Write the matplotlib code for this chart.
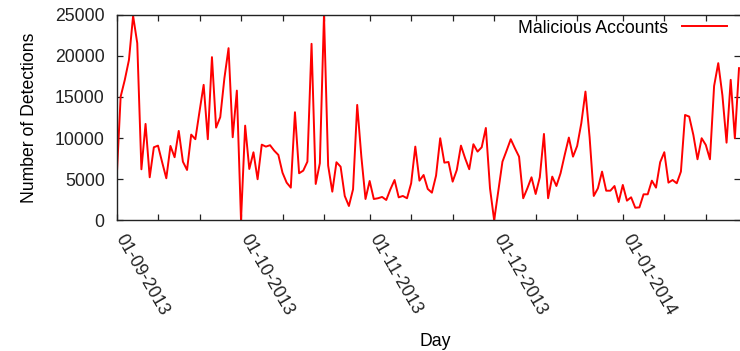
import numpy as np
import pandas as pd
import matplotlib
matplotlib.use('Agg')
import matplotlib.pyplot as plt
import matplotlib.dates as mdates
import matplotlib.transforms as mtransforms

plt.rcParams['font.family'] = ['Liberation Sans', 'DejaVu Sans']

# daily detections, starting 01-09-2013
start_day = '2013-09-01'
detections = [
    4700, 15040, 17080, 19500, 24860, 21540, 6200, 11720, 5230, 8880,
    9080, 7060, 5110, 9040, 7670, 10870, 7130, 6120, 10420, 9860,
    13220, 16470, 9860, 19840, 11270, 12540, 17280, 20930, 10100, 15770,
    0, 11510, 6240, 8270, 4990, 9200, 8960, 9130, 8470, 7950,
    5790, 4580, 3970, 13140, 5720, 6040, 7130, 21460, 4420, 6940,
    25000, 6650, 3480, 7060, 6520, 2960, 1740, 3770, 14030, 7740,
    2590, 4780, 2590, 2680, 2840, 2470, 3770, 4900, 2790, 2960,
    2680, 4500, 8960, 4820, 5510, 3810, 3360, 5430, 9980, 7010,
    7090, 4700, 6120, 9080, 7550, 6210, 9250, 8350, 8880, 11230,
    3890, 0, 3600, 7130, 8470, 9860, 8760, 7740, 2680, 3890,
    5230, 3200, 5230, 10500, 2680, 5310, 4170, 5720, 7950, 10060,
    7740, 9040, 11800, 15650, 10100, 2960, 3890, 5920, 3600, 3600,
    4170, 2220, 4300, 2390, 2800, 1530, 1570, 3160, 3160, 4820,
    3970, 7060, 8280, 4580, 4900, 4500, 5920, 12810, 12610, 10380,
    7420, 9980, 9160, 7420, 16330, 19110, 15200, 9440, 17080, 9980,
    18500,
]
days = pd.date_range(start_day, periods=len(detections), freq='D')
y_ticks = [0, 5000, 10000, 15000, 20000, 25000]

fig = plt.figure(figsize=(7.4, 3.51), dpi=100)
ax = fig.add_axes([116.5 / 740, 1 - 220.3 / 351, 1 - 116.5 / 740, (220.3 - 14.7) / 351])

ax.plot(days, detections, color='#ff0000', lw=1.4, label='Malicious Accounts')

ax.set_xlim(days[0], days[0] + pd.Timedelta(days=150.24))
ax.set_ylim(0, 25000)
ax.set_yticks(y_ticks)

ax.xaxis.set_major_locator(mdates.MonthLocator(bymonthday=1))
ax.xaxis.set_major_formatter(mdates.DateFormatter('%d-%m-%Y'))
ax.xaxis.set_minor_locator(mdates.DayLocator(bymonthday=[11, 21]))

ax.tick_params(axis='both', which='both', direction='in', labelsize=12.7,
               colors='#222222', width=0.9)
ax.tick_params(axis='x', which='both', top=True, length=4)
ax.tick_params(axis='y', which='both', right=True, length=4, pad=8.5)
ax.tick_params(axis='x', which='major', pad=11)

shift = mtransforms.ScaledTranslation(3 / 100, 0, fig.dpi_scale_trans)
for lbl in ax.get_xticklabels():
    lbl.set_rotation(-60)
    lbl.set_rotation_mode('anchor')
    lbl.set_ha('left')
    lbl.set_va('center')
    lbl.set_transform(lbl.get_transform() + shift)

for side in ['left', 'top', 'bottom']:
    ax.spines[side].set_color('#222222')
    ax.spines[side].set_linewidth(1.0)
ax.spines['right'].set_visible(False)

ax.set_ylabel('Number of Detections', fontsize=12.7, labelpad=12)
fig.text(435 / 740, 1 - 341 / 351, 'Day', fontsize=12.7, ha='center', va='center')

ax.legend(loc='center right', bbox_to_anchor=(0.979, 0.935), frameon=False,
          markerfirst=False, fontsize=12.7, handlelength=2.55, handletextpad=0.8,
          borderpad=0, borderaxespad=0)

fig.savefig('out.png', dpi=100)
